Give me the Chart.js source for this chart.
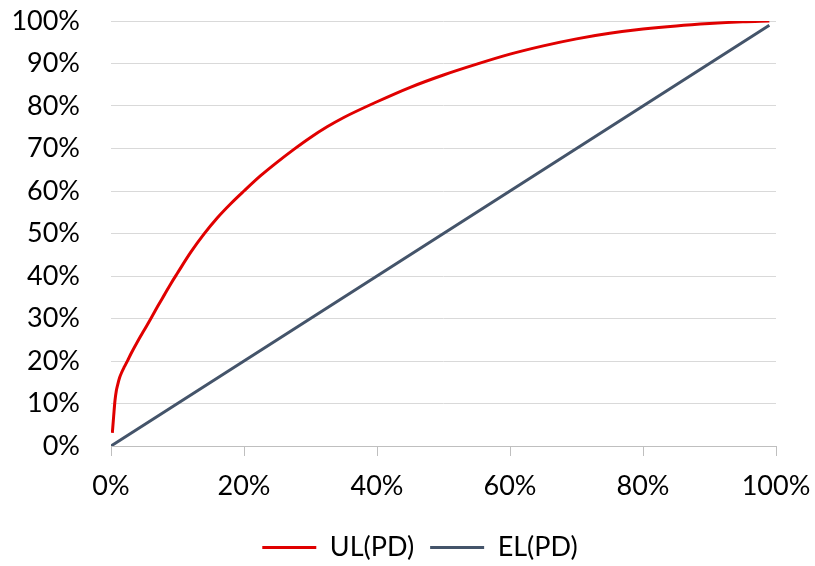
<!DOCTYPE html>
<html>
<head>
<meta charset="utf-8">
<script src="https://cdn.jsdelivr.net/npm/chart.js@4/dist/chart.umd.min.js"></script>
<style>
  html, body { margin: 0; padding: 0; background: #ffffff; }
  #wrap { width: 815px; height: 566px; }
</style>
</head>
<body>
<div id="wrap"><canvas id="c" width="815" height="566"></canvas></div>
<script>
// PD (x, %) and UL(PD) (y, %)
const ulPd = [0.2, 0.4, 0.6, 0.8, 1.0, 1.3, 1.6, 2.0, 2.5, 3, 4, 5, 6, 7, 8, 9, 10, 12, 14, 16, 18, 20, 22.5, 25, 27.5, 30, 32.5, 35, 40, 45, 50, 55, 60, 65, 70, 75, 80, 85, 90, 95, 99];
const ulValues = [3.1, 7.0, 10.7, 13.0, 14.4, 16.1, 17.3, 18.6, 20.1, 21.7, 24.6, 27.3, 30.0, 32.8, 35.5, 38.2, 40.7, 45.6, 49.9, 53.7, 57.0, 60.0, 63.6, 66.8, 69.8, 72.6, 75.1, 77.3, 81.0, 84.4, 87.3, 89.85, 92.2, 94.15, 95.8, 97.1, 98.1, 98.85, 99.4, 99.8, 100];
// EL(PD) line
const elPd = [0, 20, 40, 60, 80, 99];
const elValues = [0, 20, 40, 60, 80, 99];
// axis ticks
const xTicks = [0, 20, 40, 60, 80, 100];
const yTicks = [0, 10, 20, 30, 40, 50, 60, 70, 80, 90, 100];
const seriesNames = ['UL(PD)', 'EL(PD)'];
const seriesColors = ['#E00000', '#44546A'];

const toXY = (xs, ys) => xs.map((x, i) => ({ x: x, y: ys[i] }));
const FONT = 'Lato';

new Chart(document.getElementById('c'), {
  type: 'line',
  data: {
    datasets: [
      {
        label: seriesNames[0],
        data: toXY(ulPd, ulValues),
        borderColor: seriesColors[0],
        backgroundColor: seriesColors[0],
        borderWidth: 3,
        pointRadius: 0,
        cubicInterpolationMode: 'monotone',
        fill: false
      },
      {
        label: seriesNames[1],
        data: toXY(elPd, elValues),
        borderColor: seriesColors[1],
        backgroundColor: seriesColors[1],
        borderWidth: 3,
        pointRadius: 0,
        fill: false
      }
    ]
  },
  options: {
    responsive: false,
    devicePixelRatio: 1,
    animation: false,
    layout: { padding: { left: 25, right: 0, top: 21, bottom: -5 } },
    plugins: {
      tooltip: { enabled: false },
      legend: {
        position: 'bottom',
        labels: {
          color: '#000',
          font: { family: FONT, size: 27 },
          boxWidth: 54,
          boxHeight: 3,
          padding: 16,
          generateLabels: function (chart) {
            const items = Chart.defaults.plugins.legend.labels.generateLabels(chart);
            items.forEach(it => { it.lineWidth = 0; it.fillStyle = it.strokeStyle; });
            return items;
          }
        }
      }
    },
    scales: {
      x: {
        type: 'linear',
        min: 0,
        max: 100,
        afterBuildTicks: s => { s.ticks = xTicks.map(v => ({ value: v })); },
        afterFit: s => { s.paddingRight = 39; s.paddingLeft = 0; s.height = 72; },
        border: { display: true, color: '#BFBFBF', width: 1 },
        grid: { drawOnChartArea: false, drawTicks: true, tickLength: 10, color: '#BFBFBF' },
        ticks: {
          color: '#000',
          font: { family: FONT, size: 27 },
          padding: 14,
          maxRotation: 0,
          callback: v => v + '%'
        }
      },
      y: {
        type: 'linear',
        min: 0,
        max: 100,
        afterBuildTicks: s => { s.ticks = yTicks.map(v => ({ value: v })); },
        afterFit: s => {
          s.width = 86; s.paddingTop = 0; s.paddingBottom = 0;
          s._computeLabelArea = () => undefined;
        },
        border: { display: false },
        grid: { color: '#D9D9D9', lineWidth: 1, drawTicks: false },
        ticks: {
          color: '#000',
          font: { family: FONT, size: 27 },
          padding: 31,
          callback: v => v + '%'
        }
      }
    }
  }
});
</script>
</body>
</html>
